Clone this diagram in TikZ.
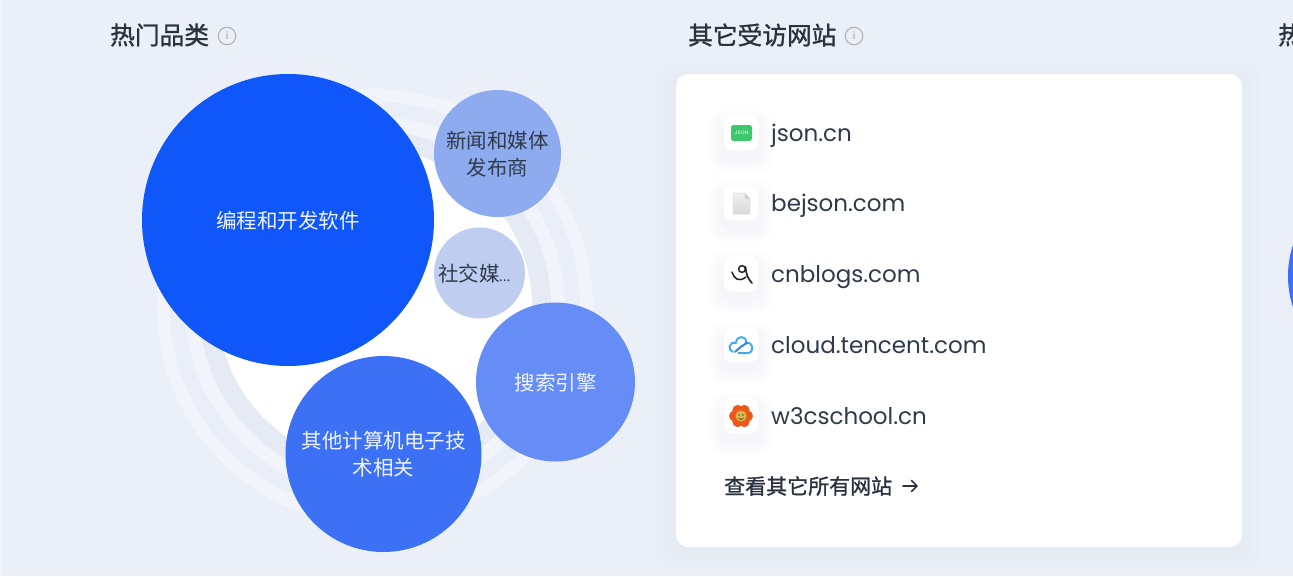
\documentclass[tikz,border=0pt]{standalone}
\usepackage{fontspec}
\setmainfont{Poppins}
\newfontfamily\cjk{Noto Sans CJK SC}
\newfontfamily\cjkm[FakeBold=1.2]{Noto Sans CJK SC}
\usetikzlibrary{calc}
\definecolor{bgc}{HTML}{EAEFF8}
\definecolor{ringa}{HTML}{E5EAF4}
\definecolor{ringb}{HTML}{F1F4FB}
\definecolor{ringc}{HTML}{E9EEF8}
\definecolor{inkc}{HTML}{2F3A4A}
\definecolor{titlec}{HTML}{2A323F}
\definecolor{bubA}{HTML}{1057FA}
\definecolor{bubB}{HTML}{8FABF0}
\definecolor{bubC}{HTML}{BECDF0}
\definecolor{bubD}{HTML}{668DF5}
\definecolor{bubE}{HTML}{3C71F5}
\definecolor{jsonc}{HTML}{3DC86E}
\definecolor{cloudA}{HTML}{46AAF0}
\definecolor{cloudB}{HTML}{3282F5}
\definecolor{flowerc}{HTML}{EB5A19}
\definecolor{flowerd}{HTML}{D9B848}
\definecolor{shadc}{HTML}{5A6E9E}
\definecolor{btext}{HTML}{EEF3FF}
\tikzset{
  x=1pt,y=-1pt,
  bubble/.style={circle,inner sep=0pt,minimum size=#1},
  bubtxt/.style={font=\cjk\fontsize{20.5}{26.5}\selectfont,align=center},
  title/.style={anchor=west,text=titlec,font=\cjkm\fontsize{24.7}{28}\selectfont,inner sep=0pt},
  site/.style={anchor=base west,text=inkc,font=\fontsize{23}{28}\selectfont,inner sep=0pt},
  iconbox/.style={fill=white,rounded corners=9pt,minimum size=35pt,inner sep=0pt},
  infoc/.style={circle,draw=gray!60,line width=1.1pt,minimum size=17.5pt,inner sep=0pt,text=gray!75,font=\fontsize{10}{10}\selectfont},
}
\begin{document}
\begin{tikzpicture}
\useasboundingbox (0,0) rectangle (1293,576);
\fill[bgc] (0,0) rectangle (1293,576);
\fill[bgc!70!white] (0,0) rectangle (2,576);
% rings
\fill[ringb] (375,307) circle (218);
\fill[ringc] (375,307) circle (205);
\fill[ringb] (375,307) circle (190);
\fill[ringa] (375,307) circle (176);
\fill[white] (375,307) circle (157);
% titles
\node[title] (t1) at (110,35) {热门品类};
\node[infoc] (i1) at (227,36) {i};
\node[title] (t2) at (688,35) {其它受访网站};
\node[infoc] (i2) at (854,36) {i};
\node[title] (t3) at (1278,35) {热};
% card shadow
\foreach \k in {20,16,...,4}{
  \fill[shadc,opacity=0.005,rounded corners=14pt] (676-\k,74-\k+6) rectangle (1242+\k,547+\k+6);
}
\fill[white,rounded corners=12pt] (676,74) rectangle (1242,547);
% bubbles
\node[bubble=292pt,fill=bubA] (b1) at (288,220) {};
\node[bubtxt,text=btext] at (288,221) {编程和开发软件};
\node[bubble=127pt,fill=bubB] (b2) at (497.5,153.5) {};
\node[bubtxt,text=inkc] at (497.5,154) {新闻和媒体\\发布商};
\node[bubble=91pt,fill=bubC] (b3) at (479.5,273) {};
\node[bubtxt,text=inkc] at (474.5,274) {社交媒\kern-1pt{\fontsize{14}{14}\selectfont...}};
\node[bubble=159pt,fill=bubD] (b4) at (555.5,382) {};
\node[bubtxt,text=btext] at (555.5,383) {搜索引擎};
\node[bubble=196pt,fill=bubE] (b5) at (383.5,454) {};
\node[bubtxt,text=btext] at (383.5,454) {其他计算机电子技\\术相关};
\node[bubble=200pt,fill=bubE] (b6) at (1388,276) {};
% site rows
\foreach \yy/\nm/\lab in {133/ia/json.cn,203/ib/bejson.com,274/ic/cnblogs.com,345/id/cloud.tencent.com,416/ie/w3cschool.cn}{
  \foreach \k in {14,11,8,5,2}{
    \fill[shadc,opacity=0.009,rounded corners=12pt] (741-17-\k,\yy-17-\k+8) rectangle (741+17+\k,\yy+17+\k+8);
  }
  \node[iconbox] (\nm) at (741,\yy) {};
  \node[site] at (771,\yy+8.5) {\lab};
}
% json icon
\fill[jsonc,rounded corners=2.5pt] (731,125) rectangle (752,141);
\node[text=white,font=\rmfamily\fontsize{5}{5}\selectfont,inner sep=0pt] at (741.5,133) {JSON};
% file icon
\shade[top color=gray!12,bottom color=gray!30,draw=gray!30,line width=.5pt] (733,193) -- (745,193) -- (750,199) -- (750,214) -- (733,214) -- cycle;
\fill[gray!35] (745,193) -- (745,199) -- (750,199) -- cycle;
% cnblogs icon
\draw[black!85,line width=1.5pt,line cap=round] (732,272) .. controls (734,278) and (738,283) .. (746,277);
\draw[black!85,line width=1.5pt] (742,269) circle (3.4);
\draw[black!85,line width=1.7pt,line cap=round] (745.5,267) .. controls (746,274) and (748,279) .. (752,283);
% tencent cloud icon
\draw[cloudA,line width=2pt,line join=round] (733,352) .. controls (727,350) and (729,341) .. (736,343) .. controls (736,335) and (747,335) .. (746,343) .. controls (753,341) and (755,352) .. (748,353) -- (738,353);
\draw[cloudB,line width=2pt,line cap=round] (735,352) .. controls (739,348) and (743,345) .. (747,343);
% w3c icon
\foreach \a in {0,60,...,300}{
  \fill[flowerc] ($(741,416)+(\a:6.5)$) circle (5.5);
}
\fill[flowerd] (741,416) circle (5.5);
\fill[black!70] (739,415) circle (.8) (743,415) circle (.8);
\draw[black!70,line width=.7pt] (738.5,418) .. controls (740,420) and (742,420) .. (743.5,418);
% link
\node[anchor=west,text=titlec,inner sep=0pt,font=\cjkm\fontsize{21}{24}\selectfont] (lk) at (724,486) {查看其它所有网站};
\coordinate (arA) at (903,486);
\coordinate (arB) at (917,486);
\draw[titlec,line width=1.6pt,line cap=round,line join=round] (arA) -- (arB) (911.5,480.5) -- (arB) -- (911.5,491.5);
\end{tikzpicture}
\end{document}
